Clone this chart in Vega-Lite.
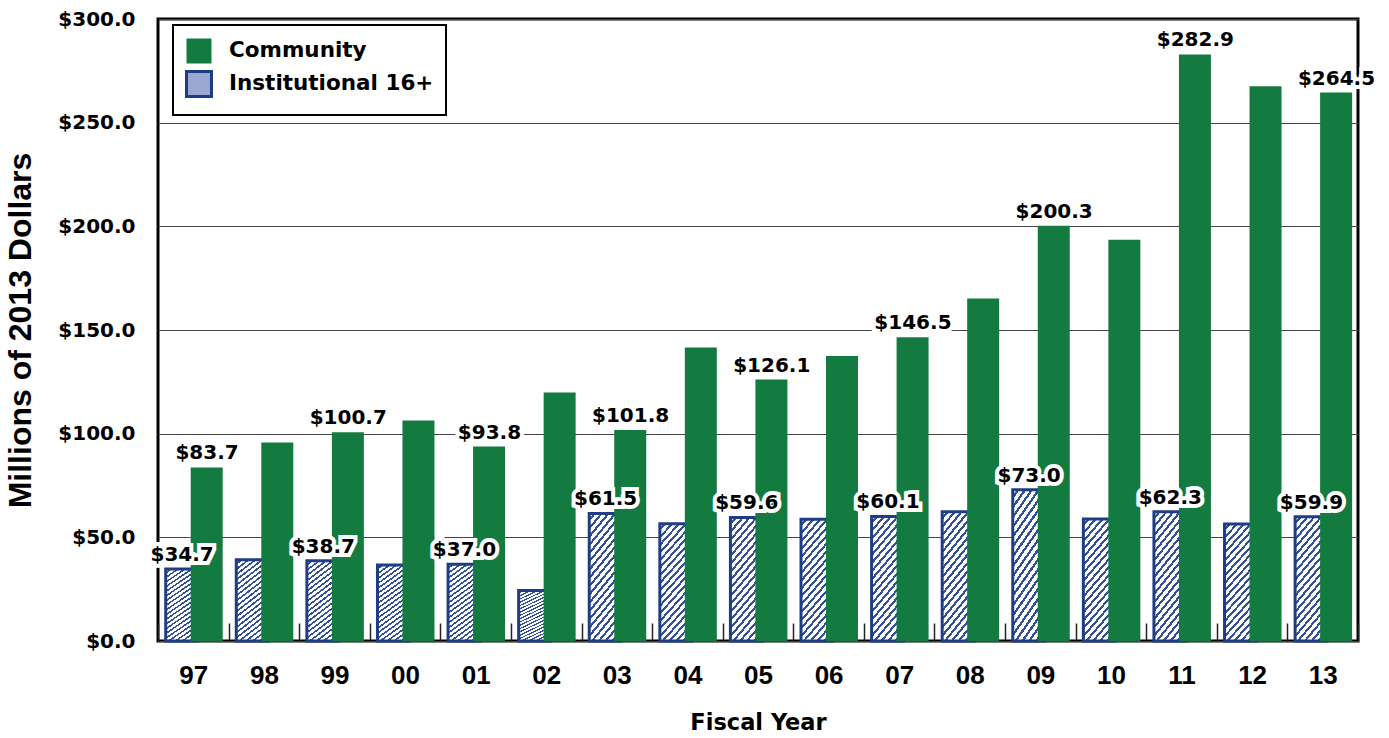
{
  "$schema": "https://vega.github.io/schema/vega-lite/v6.json",
  "width": 1200,
  "height": 622,
  "autosize": "none",
  "padding": {"left": 158, "top": 19, "right": 31, "bottom": 97},
  "background": "white",
  "config": {
    "view": {"stroke": "black", "strokeWidth": 3},
    "legend": {"strokeWidth": 2}
  },
  "data": {
    "values": [
      {"year": "97", "series": "Institutional 16+", "value": 34.7},
      {"year": "98", "series": "Institutional 16+", "value": 39.2},
      {"year": "99", "series": "Institutional 16+", "value": 38.7},
      {"year": "00", "series": "Institutional 16+", "value": 36.7},
      {"year": "01", "series": "Institutional 16+", "value": 37.0},
      {"year": "02", "series": "Institutional 16+", "value": 24.4},
      {"year": "03", "series": "Institutional 16+", "value": 61.5},
      {"year": "04", "series": "Institutional 16+", "value": 56.6},
      {"year": "05", "series": "Institutional 16+", "value": 59.6},
      {"year": "06", "series": "Institutional 16+", "value": 58.7},
      {"year": "07", "series": "Institutional 16+", "value": 60.1},
      {"year": "08", "series": "Institutional 16+", "value": 62.3},
      {"year": "09", "series": "Institutional 16+", "value": 73.0},
      {"year": "10", "series": "Institutional 16+", "value": 58.9},
      {"year": "11", "series": "Institutional 16+", "value": 62.3},
      {"year": "12", "series": "Institutional 16+", "value": 56.4},
      {"year": "13", "series": "Institutional 16+", "value": 59.9},
      {"year": "97", "series": "Community", "value": 83.7},
      {"year": "98", "series": "Community", "value": 95.7},
      {"year": "99", "series": "Community", "value": 100.7},
      {"year": "00", "series": "Community", "value": 106.4},
      {"year": "01", "series": "Community", "value": 93.8},
      {"year": "02", "series": "Community", "value": 119.8},
      {"year": "03", "series": "Community", "value": 101.8},
      {"year": "04", "series": "Community", "value": 141.6},
      {"year": "05", "series": "Community", "value": 126.1},
      {"year": "06", "series": "Community", "value": 137.5},
      {"year": "07", "series": "Community", "value": 146.5},
      {"year": "08", "series": "Community", "value": 165.2},
      {"year": "09", "series": "Community", "value": 200.3},
      {"year": "10", "series": "Community", "value": 193.5},
      {"year": "11", "series": "Community", "value": 282.9},
      {"year": "12", "series": "Community", "value": 267.6},
      {"year": "13", "series": "Community", "value": 264.5}
    ]
  },
  "encoding": {
    "x": {
      "field": "year", "type": "ordinal", "sort": null,
      "title": "Fiscal Year",
      "scale": {"paddingInner": 0, "paddingOuter": 0},
      "axis": {
        "labelAngle": 0, "labelFont": "Liberation Sans", "labelFontSize": 26, "labelFontWeight": "bold",
        "labelColor": "black", "labelPadding": 39, "tickBand": "extent", "tickSize": -18,
        "tickColor": "#222222", "tickWidth": 1.5, "domain": false, "grid": false,
        "titleFont": "DejaVu Sans", "titleFontSize": 22.5, "titleFontWeight": "bold",
        "titleColor": "black", "titlePadding": 23
      }
    },
    "xOffset": {
      "field": "series", "type": "nominal",
      "scale": {"domain": ["Institutional 16+", "Community"], "paddingInner": 0, "paddingOuter": 0.412, "align": 0.854}
    },
    "y": {
      "field": "value", "type": "quantitative", "stack": null,
      "title": "Millions of 2013 Dollars",
      "scale": {"domain": [0, 300], "nice": false},
      "axis": {
        "values": [0, 50, 100, 150, 200, 250, 300], "format": "$.1f",
        "labelFont": "DejaVu Sans", "labelFontSize": 20, "labelFontWeight": "bold", "labelColor": "black",
        "labelPadding": 23, "ticks": false, "domain": false, "grid": true,
        "gridColor": "#444444", "gridWidth": 1.2,
        "titleFont": "Liberation Sans", "titleFontSize": 32, "titleFontWeight": "bold",
        "titleColor": "black", "titlePadding": 20
      }
    }
  },
  "layer": [
    {
      "transform": [{"filter": "datum.series === 'Institutional 16+'"}],
      "mark": {"type": "bar", "width": {"band": 1.28}, "strokeWidth": 3},
      "encoding": {
        "fill": {
          "condition": {
            "test": "datum.series === 'Institutional 16+'",
            "value": {
              "gradient": "linear", "x1": 0, "y1": 0, "x2": 0.36, "y2": 1.19,
              "stops": [
                {"offset": 0, "color": "#ffffff"}, {"offset": 0.03, "color": "#ffffff"}, {"offset": 0.03, "color": "#34509a"}, {"offset": 0.05, "color": "#34509a"},
                {"offset": 0.05, "color": "#ffffff"}, {"offset": 0.08, "color": "#ffffff"}, {"offset": 0.08, "color": "#34509a"}, {"offset": 0.1, "color": "#34509a"},
                {"offset": 0.1, "color": "#ffffff"}, {"offset": 0.13, "color": "#ffffff"}, {"offset": 0.13, "color": "#34509a"}, {"offset": 0.15, "color": "#34509a"},
                {"offset": 0.15, "color": "#ffffff"}, {"offset": 0.18, "color": "#ffffff"}, {"offset": 0.18, "color": "#34509a"}, {"offset": 0.2, "color": "#34509a"},
                {"offset": 0.2, "color": "#ffffff"}, {"offset": 0.23, "color": "#ffffff"}, {"offset": 0.23, "color": "#34509a"}, {"offset": 0.25, "color": "#34509a"},
                {"offset": 0.25, "color": "#ffffff"}, {"offset": 0.28, "color": "#ffffff"}, {"offset": 0.28, "color": "#34509a"}, {"offset": 0.3, "color": "#34509a"},
                {"offset": 0.3, "color": "#ffffff"}, {"offset": 0.33, "color": "#ffffff"}, {"offset": 0.33, "color": "#34509a"}, {"offset": 0.35, "color": "#34509a"},
                {"offset": 0.35, "color": "#ffffff"}, {"offset": 0.38, "color": "#ffffff"}, {"offset": 0.38, "color": "#34509a"}, {"offset": 0.4, "color": "#34509a"},
                {"offset": 0.4, "color": "#ffffff"}, {"offset": 0.43, "color": "#ffffff"}, {"offset": 0.43, "color": "#34509a"}, {"offset": 0.45, "color": "#34509a"},
                {"offset": 0.45, "color": "#ffffff"}, {"offset": 0.48, "color": "#ffffff"}, {"offset": 0.48, "color": "#34509a"}, {"offset": 0.5, "color": "#34509a"},
                {"offset": 0.5, "color": "#ffffff"}, {"offset": 0.53, "color": "#ffffff"}, {"offset": 0.53, "color": "#34509a"}, {"offset": 0.55, "color": "#34509a"},
                {"offset": 0.55, "color": "#ffffff"}, {"offset": 0.58, "color": "#ffffff"}, {"offset": 0.58, "color": "#34509a"}, {"offset": 0.6, "color": "#34509a"},
                {"offset": 0.6, "color": "#ffffff"}, {"offset": 0.63, "color": "#ffffff"}, {"offset": 0.63, "color": "#34509a"}, {"offset": 0.65, "color": "#34509a"},
                {"offset": 0.65, "color": "#ffffff"}, {"offset": 0.68, "color": "#ffffff"}, {"offset": 0.68, "color": "#34509a"}, {"offset": 0.7, "color": "#34509a"},
                {"offset": 0.7, "color": "#ffffff"}, {"offset": 0.73, "color": "#ffffff"}, {"offset": 0.73, "color": "#34509a"}, {"offset": 0.75, "color": "#34509a"},
                {"offset": 0.75, "color": "#ffffff"}, {"offset": 0.78, "color": "#ffffff"}, {"offset": 0.78, "color": "#34509a"}, {"offset": 0.8, "color": "#34509a"},
                {"offset": 0.8, "color": "#ffffff"}, {"offset": 0.83, "color": "#ffffff"}, {"offset": 0.83, "color": "#34509a"}, {"offset": 0.85, "color": "#34509a"},
                {"offset": 0.85, "color": "#ffffff"}, {"offset": 0.88, "color": "#ffffff"}, {"offset": 0.88, "color": "#34509a"}, {"offset": 0.9, "color": "#34509a"},
                {"offset": 0.9, "color": "#ffffff"}, {"offset": 0.93, "color": "#ffffff"}, {"offset": 0.93, "color": "#34509a"}, {"offset": 0.95, "color": "#34509a"},
                {"offset": 0.95, "color": "#ffffff"}, {"offset": 0.98, "color": "#ffffff"}, {"offset": 0.98, "color": "#34509a"}, {"offset": 1, "color": "#34509a"}
              ]
            }
          },
          "field": "series", "type": "nominal",
          "scale": {"domain": ["Community", "Institutional 16+"], "range": ["#137b3f", "#9aa8cf"]},
          "legend": {
            "orient": "none", "legendX": 15, "legendY": 6, "title": null,
            "symbolType": "square", "symbolSize": 625, "symbolStrokeWidth": 3,
            "labelFont": "DejaVu Sans", "labelFontSize": 21.5, "labelFontWeight": "bold", "labelColor": "black",
            "labelOffset": 16, "rowPadding": -8, "padding": 12,
            "strokeColor": "black", "fillColor": "white", "labelLimit": 0,
            "encode": {
              "symbols": {
                "update": {
                  "stroke": {"signal": "datum.value === 'Institutional 16+' ? '#1f3d86' : 'transparent'"}
                }
              }
            }
          }
        },
        "stroke": {
          "field": "series", "type": "nominal",
          "scale": {"domain": ["Community", "Institutional 16+"], "range": ["transparent", "#1f3d86"]},
          "legend": null
        }
      }
    },
    {
      "transform": [{"filter": "datum.series === 'Community'"}],
      "mark": {"type": "bar", "width": {"band": 1.28}, "strokeWidth": 3},
      "encoding": {
        "fill": {"field": "series", "type": "nominal"},
        "stroke": {"field": "series", "type": "nominal"}
      }
    },
    {
      "transform": [{"filter": {"field": "year", "oneOf": ["97", "99", "01", "03", "05", "07", "09", "11", "13"]}}],
      "mark": {"type": "text", "dy": -8, "dx": -6, "baseline": "alphabetic", "font": "DejaVu Sans", "fontSize": 20, "fontWeight": "bold",
               "fill": "white", "stroke": "white", "strokeWidth": 8, "strokeJoin": "miter"},
      "encoding": {"text": {"field": "value", "type": "quantitative", "format": "$.1f"}}
    },
    {
      "transform": [{"filter": {"field": "year", "oneOf": ["97", "99", "01", "03", "05", "07", "09", "11", "13"]}}],
      "mark": {"type": "text", "dy": -8, "dx": -6, "baseline": "alphabetic", "font": "DejaVu Sans", "fontSize": 20, "fontWeight": "bold", "fill": "black"},
      "encoding": {"text": {"field": "value", "type": "quantitative", "format": "$.1f"}}
    }
  ]
}
